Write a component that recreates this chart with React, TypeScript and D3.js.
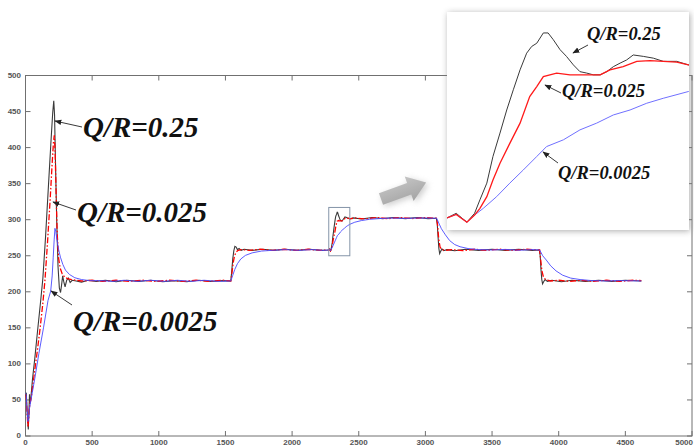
import React from 'react';
import * as d3 from 'd3';

type Pt = [number, number];

// Axis tick values
const xTickValues = [0, 500, 1000, 1500, 2000, 2500, 3000, 3500, 4000, 4500, 5000];
const yTickValues = [0, 50, 100, 150, 200, 250, 300, 350, 400, 450, 500];

// Weighting ratios of the three runs
const ratioLabels = ['Q/R=0.25', 'Q/R=0.025', 'Q/R=0.0025'];

// Response with Q/R = 0.25 (time, value)
const responseHigh: Pt[] = [
  [0, 55], [6, 60], [10, 42], [16, 22], [21, 9], [26, 35], [30, 58], [34, 45], [40, 52], [52, 78],
  [70, 108], [90, 145], [114, 188], [130, 218], [150, 275], [170, 340], [190, 405], [204, 448], [212, 465],
  [218, 445], [225, 380], [234, 300], [244, 235], [254, 205], [263, 199], [271, 210], [279, 222], [287, 214],
  [297, 207], [309, 216], [321, 219], [335, 213], [350, 216], [380, 215], [420, 213.5], [470, 216],
  [530, 214.5], [600, 216], [680, 214], [760, 216], [850, 214.5], [940, 216], [1030, 214], [1120, 215.5],
  [1210, 214], [1300, 216], [1390, 214.5], [1480, 215.5], [1540, 215], [1547, 228], [1555, 246], [1563, 257],
  [1571, 263], [1580, 262], [1590, 258.5], [1602, 260], [1618, 257.5], [1640, 259], [1700, 257.5], [1780, 259],
  [1860, 257.5], [1950, 259], [2040, 257.5], [2130, 259], [2220, 257.5], [2275, 258], [2281, 259.3],
  [2288, 256.8], [2293, 259.3], [2296.5, 263.1], [2301, 267.8], [2305, 275.3], [2309.6, 281.9], [2314, 288.4],
  [2318.3, 294.1], [2322.7, 299.7], [2327, 304.4], [2330.3, 306.3], [2333.6, 307.2], [2337.9, 310.1],
  [2341, 310.1], [2344.4, 308.2], [2348.8, 305.4], [2353, 303.5], [2357.5, 301.1], [2361.8, 299.2],
  [2366.2, 298.8], [2370.5, 298.3], [2375, 298.3], [2379.3, 299.2], [2383.6, 300.6], [2388, 301.6],
  [2392.3, 302.5], [2396.6, 303.9], [2403.2, 303.5], [2409.7, 303], [2416.2, 302.1], [2425, 302.1],
  [2432.6, 301.1], [2460, 302.5], [2520, 301], [2600, 303], [2680, 301.5], [2760, 303], [2850, 301.5],
  [2940, 303], [3020, 301.5], [3082, 302], [3089, 294], [3095, 276], [3101, 260], [3107, 253], [3114, 256],
  [3124, 259.5], [3138, 257], [3160, 258.5], [3220, 257], [3300, 259], [3400, 257.5], [3500, 259],
  [3600, 257.5], [3700, 259], [3800, 257.5], [3855, 258], [3861, 250], [3867, 231], [3873, 217], [3879, 211],
  [3887, 214], [3898, 217], [3915, 214.5], [3950, 216], [4020, 214], [4100, 216], [4200, 214.5], [4300, 216],
  [4400, 214.5], [4500, 216], [4620, 215],
];

// Response with Q/R = 0.025
const responseMid: Pt[] = [
  [0, 58], [8, 45], [14, 25], [19, 12], [25, 28], [32, 44], [40, 50], [52, 66], [70, 92], [90, 120],
  [110, 150], [130, 184], [146, 216], [165, 268], [185, 328], [200, 378], [210, 408], [216, 417], [222, 396],
  [230, 335], [238, 280], [248, 247], [260, 233], [275, 225], [295, 220], [320, 218], [360, 216.5], [420, 215],
  [500, 216], [580, 214.5], [680, 216], [780, 214.5], [880, 216], [980, 214.5], [1080, 216], [1180, 214.5],
  [1280, 216], [1380, 214.5], [1480, 216], [1540, 215], [1548, 225], [1558, 240], [1568, 250], [1580, 255],
  [1595, 257.5], [1620, 258.5], [1680, 257.5], [1760, 259], [1850, 257.5], [1940, 259], [2030, 257.5],
  [2120, 259], [2210, 257.5], [2275, 258], [2281, 259], [2288, 256.8], [2293, 258.8], [2296.5, 260.7],
  [2301, 264], [2305, 268.7], [2309.6, 273.4], [2316, 279], [2322.7, 284.7], [2329, 292.2], [2333.6, 295],
  [2337.9, 297.8], [2342.2, 298.3], [2346.6, 298.8], [2355.3, 298.3], [2364, 298.3], [2375, 298.3],
  [2381.4, 299.7], [2390, 300.6], [2398.9, 302.1], [2407.5, 302.3], [2416.2, 302.1], [2425, 301.9],
  [2432.6, 301.1], [2470, 302.5], [2550, 301], [2630, 303], [2720, 301.5], [2810, 303], [2900, 301.5],
  [2990, 303], [3085, 302], [3092, 291], [3100, 273], [3110, 262], [3125, 258.5], [3150, 257.5], [3200, 258.5],
  [3280, 257], [3370, 259], [3460, 257.5], [3560, 259], [3660, 257.5], [3760, 259], [3857, 258], [3864, 246],
  [3874, 229], [3886, 220], [3905, 216.5], [3940, 215], [4000, 216], [4080, 214.5], [4170, 216],
  [4260, 214.5], [4360, 216], [4460, 214.5], [4560, 216], [4620, 215.5],
];

// Response with Q/R = 0.0025
const responseLow: Pt[] = [
  [0, 60], [6, 56], [12, 36], [18, 20], [24, 24], [30, 38], [41, 50], [70, 80], [100, 114], [135, 150],
  [169, 188], [189, 201], [200, 222], [208, 248], [215, 272], [221, 288], [227, 284], [236, 272], [248, 259],
  [262, 248], [280, 238], [300, 230], [330, 224], [370, 219.5], [420, 217], [480, 215.5], [560, 215.5],
  [650, 214.5], [740, 216], [840, 214.5], [940, 216], [1040, 214.5], [1140, 216], [1240, 214.5], [1340, 216],
  [1440, 214.5], [1540, 215], [1555, 223], [1570, 231], [1590, 239], [1615, 245.5], [1650, 250.5],
  [1700, 254], [1770, 256.5], [1850, 257.5], [1950, 258.5], [2050, 257.5], [2150, 258.5], [2230, 257.5],
  [2275, 258], [2281, 259], [2288, 256.8], [2293, 258.8], [2298.7, 260.7], [2307.4, 264], [2316, 267.8],
  [2324.8, 271.5], [2333.6, 275.3], [2340, 278.1], [2351, 280], [2361.8, 282.8], [2372.7, 284.7],
  [2383.6, 287], [2394.5, 288.4], [2405.4, 290.3], [2416.2, 291.7], [2432.6, 293.6], [2470, 296.5],
  [2520, 298.8], [2580, 300.5], [2660, 301.6], [2750, 302.3], [2850, 301.8], [2950, 302.4], [3085, 302],
  [3100, 295.5], [3120, 287.5], [3150, 279], [3182, 271], [3220, 265.5], [3260, 262.5], [3320, 260],
  [3400, 258.5], [3500, 258], [3600, 258.8], [3700, 257.6], [3800, 258.5], [3857, 258], [3880, 250],
  [3907, 244], [3940, 236], [3980, 229], [4030, 223], [4090, 219], [4160, 217], [4250, 215.5], [4350, 215],
  [4450, 215.5], [4620, 215],
];

// Zoomed window (time and value ranges)
const windowTime: Pt = [2275, 2433];
const windowValue: Pt = [254.6, 316];
const frameValue: Pt = [250, 317];

const W = 694;
const H = 446;
const plot = { left: 25.5, top: 75.5, right: 692, bottom: 436 };
const inset = { left: 447, top: 12, right: 689, bottom: 230 };

const x = d3.scaleLinear().domain([0, 5000]).range([plot.left, plot.right]);
const y = d3.scaleLinear().domain([0, 500]).range([plot.bottom, plot.top]);
const xi = d3.scaleLinear().domain(windowTime).range([inset.left, inset.right]);
const yi = d3.scaleLinear().domain(windowValue).range([inset.bottom, inset.top]);

const mainLine = d3.line<Pt>().x((d) => x(d[0])).y((d) => y(d[1]));
const insetLine = d3.line<Pt>().x((d) => xi(d[0])).y((d) => yi(d[1]));

const inWindow = (data: Pt[]) => data.filter((d) => d[0] >= windowTime[0] - 40 && d[0] <= windowTime[1] + 40);

const serif = '"Liberation Serif", "Times New Roman", serif';
const sans = '"Liberation Sans", Arial, sans-serif';

function Note({ text, tx, ty, size, from, to }: { text: string; tx: number; ty: number; size: number; from: Pt; to: Pt }) {
  return (
    <g>
      <line x1={from[0]} y1={from[1]} x2={to[0]} y2={to[1]} stroke="#222" strokeWidth={0.9} markerEnd="url(#tip)" />
      <text x={tx} y={ty} fontFamily={serif} fontStyle="italic" fontWeight="bold" fontSize={size} fill="#111">
        {text}
      </text>
    </g>
  );
}

export default function App() {
  const arrowAngle = -20;
  const lastTick = xTickValues[xTickValues.length - 1];
  return (
    <svg width={W} height={H} style={{ position: 'absolute', left: 0, top: 0 }}>
      <defs>
        <clipPath id="plotClip">
          <rect x={plot.left} y={plot.top} width={plot.right - plot.left} height={plot.bottom - plot.top} />
        </clipPath>
        <clipPath id="insetClip">
          <rect x={inset.left} y={inset.top} width={inset.right - inset.left} height={inset.bottom - inset.top} />
        </clipPath>
        <filter id="soft" x="-20%" y="-20%" width="140%" height="140%">
          <feGaussianBlur stdDeviation={3} />
        </filter>
        <linearGradient id="arrowFill" x1="0" y1="0" x2="0" y2="1">
          <stop offset="0" stopColor="#c4c4c4" />
          <stop offset="1" stopColor="#a4a4a4" />
        </linearGradient>
        <marker id="tip" viewBox="0 0 10 10" refX={9} refY={5} markerWidth={7} markerHeight={7} orient="auto" markerUnits="userSpaceOnUse">
          <path d="M0,1 L10,5 L0,9 Z" fill="#222" />
        </marker>
      </defs>
      <rect width={W} height={H} fill="#fff" />

      {/* axes frame and inward ticks */}
      <rect x={plot.left} y={plot.top} width={plot.right - plot.left} height={plot.bottom - plot.top} fill="none" stroke="#707070" strokeWidth={1} />
      {xTickValues.map((t) => (
        <g key={'x' + t}>
          <line x1={x(t)} x2={x(t)} y1={plot.bottom} y2={plot.bottom - 5} stroke="#707070" />
          <line x1={x(t)} x2={x(t)} y1={plot.top} y2={plot.top + 5} stroke="#707070" />
          <text
            x={t === lastTick ? W - 1 : x(t)}
            y={445}
            textAnchor={t === lastTick ? 'end' : 'middle'}
            fontFamily={sans}
            fontSize={8}
            fontWeight="bold"
            fill="#555"
          >
            {t}
          </text>
        </g>
      ))}
      {yTickValues.map((v) => (
        <g key={'y' + v}>
          <line x1={plot.left} x2={plot.left + 5} y1={y(v)} y2={y(v)} stroke="#707070" />
          <line x1={plot.right} x2={plot.right - 5} y1={y(v)} y2={y(v)} stroke="#707070" />
          <text x={21} y={y(v) + 2} textAnchor="end" fontFamily={sans} fontSize={8} fontWeight="bold" fill="#555">
            {v}
          </text>
        </g>
      ))}

      {/* responses */}
      <g clipPath="url(#plotClip)" fill="none">
        <path d={mainLine(responseHigh) || ''} stroke="#3a3a3a" strokeWidth={1.1} />
        <path d={mainLine(responseMid) || ''} stroke="#ff0000" strokeWidth={1.3} strokeDasharray="6,2,1.5,2" />
        <path d={mainLine(responseLow) || ''} stroke="#4a4aff" strokeWidth={0.9} />
      </g>

      {/* zoom window frame */}
      <rect
        x={x(windowTime[0])}
        y={y(frameValue[1])}
        width={x(windowTime[1]) - x(windowTime[0])}
        height={y(frameValue[0]) - y(frameValue[1])}
        fill="none"
        stroke="#8494a8"
        strokeWidth={1}
      />

      {/* pointer arrow toward the enlarged view */}
      <g transform={`translate(381,199) rotate(${arrowAngle})`}>
        <path d="M0,-6 L30,-6 L30,-13 L48,0 L30,13 L30,6 L0,6 Z" fill="#999" opacity={0.5} transform="translate(1.5,2.5)" filter="url(#soft)" />
        <path d="M0,-6 L30,-6 L30,-13 L48,0 L30,13 L30,6 L0,6 Z" fill="url(#arrowFill)" />
      </g>

      <Note text={ratioLabels[0]} tx={83} ty={137} size={29} from={[82, 127]} to={[55, 121]} />
      <Note text={ratioLabels[1]} tx={77} ty={222} size={29} from={[76, 210]} to={[53, 202]} />
      <Note text={ratioLabels[2]} tx={73} ty={331} size={29} from={[72, 305]} to={[51, 291]} />

      {/* enlarged view */}
      <rect x={inset.left + 1} y={inset.top + 1} width={inset.right - inset.left} height={inset.bottom - inset.top} fill="#888" opacity={0.7} filter="url(#soft)" />
      <rect x={inset.left} y={inset.top} width={inset.right - inset.left} height={inset.bottom - inset.top} fill="#fff" />
      <g clipPath="url(#insetClip)" fill="none">
        <path d={insetLine(inWindow(responseHigh)) || ''} stroke="#3a3a3a" strokeWidth={1} />
        <path d={insetLine(inWindow(responseLow)) || ''} stroke="#7070ff" strokeWidth={1} />
        <path d={insetLine(inWindow(responseMid)) || ''} stroke="#ff1a1a" strokeWidth={1.3} />
      </g>
      <Note text={ratioLabels[0]} tx={587} ty={40} size={18.5} from={[588, 45]} to={[573, 53]} />
      <Note text={ratioLabels[1]} tx={562} ty={97} size={18.5} from={[561, 93]} to={[545, 85]} />
      <Note text={ratioLabels[2]} tx={558} ty={179} size={18.5} from={[558, 163]} to={[543, 152]} />
    </svg>
  );
}
